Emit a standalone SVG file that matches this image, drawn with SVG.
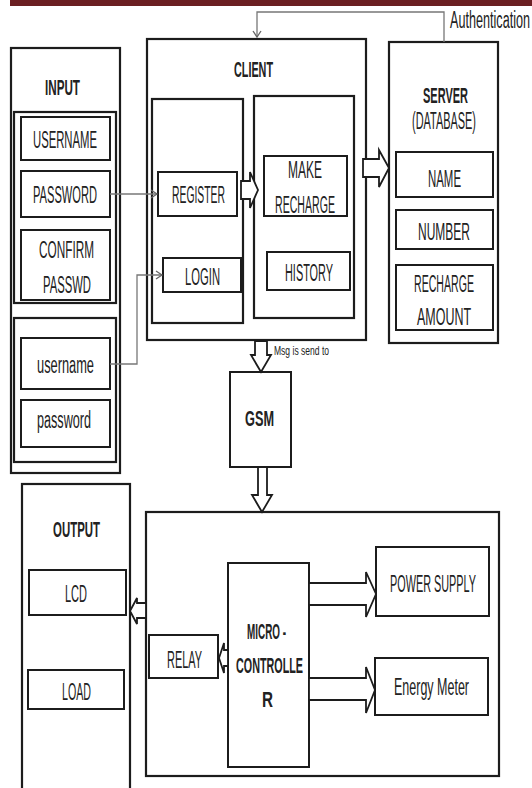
<svg xmlns="http://www.w3.org/2000/svg" width="532" height="788" viewBox="0 0 532 788">
<defs>
<style>
.box{fill:none;stroke:#1c1c1c;stroke-width:2.2}
.ibox{fill:#fff;stroke:#1c1c1c;stroke-width:2}
.t{font-family:"Liberation Sans",Arial,sans-serif;font-size:23px;fill:#222}
.b{font-weight:bold;font-size:22px}
.s{font-size:13px}
.blk{fill:#fff;stroke:#1c1c1c;stroke-width:1.8;stroke-linejoin:miter}
.ln{fill:none;stroke:#777;stroke-width:1.3}
</style>
<marker id="chev" markerWidth="10" markerHeight="10" refX="8" refY="5" orient="auto" markerUnits="userSpaceOnUse">
<path d="M2,1 L8,5 L2,9" fill="none" stroke="#666" stroke-width="1.3"/>
</marker>
</defs>
<rect x="0" y="0" width="532" height="788" fill="#fff"/>
<rect x="10" y="0" width="522" height="6" fill="#6b1f22"/>

<g id="input">
<rect class="box" x="11" y="48" width="109" height="425"/>
<text class="t b" x="45" y="95" textLength="35" lengthAdjust="spacingAndGlyphs">INPUT</text>
<rect class="box" x="14" y="112" width="102" height="191"/>
<rect class="box" x="14" y="318" width="102" height="144"/>
</g>
<g id="username-reg"><rect class="ibox" x="21" y="117" width="89" height="43"/><text class="t" x="33" y="148" textLength="64" lengthAdjust="spacingAndGlyphs">USERNAME</text></g>
<g id="password-reg"><rect class="ibox" x="21" y="171" width="89" height="46"/><text class="t" x="33" y="203" textLength="64" lengthAdjust="spacingAndGlyphs">PASSWORD</text></g>
<g id="confirm"><rect class="ibox" x="21" y="230" width="89" height="70"/><text class="t" x="39" y="258" textLength="55" lengthAdjust="spacingAndGlyphs">CONFIRM</text><text class="t" x="43" y="293" textLength="48" lengthAdjust="spacingAndGlyphs">PASSWD</text></g>
<g id="username-login"><rect class="ibox" x="21" y="338" width="89" height="51"/><text class="t" x="37" y="373" textLength="57" lengthAdjust="spacingAndGlyphs">username</text></g>
<g id="password-login"><rect class="ibox" x="21" y="400" width="89" height="47"/><text class="t" x="37" y="428" textLength="54" lengthAdjust="spacingAndGlyphs">password</text></g>

<g id="client">
<rect class="box" x="147" y="39" width="219" height="301"/>
<text class="t b" x="234" y="77" textLength="39" lengthAdjust="spacingAndGlyphs">CLIENT</text>
<rect class="box" x="152" y="99" width="91" height="224"/>
<rect class="box" x="254" y="96" width="100" height="222"/>
</g>
<g id="register"><rect class="ibox" x="158" y="172" width="79" height="44"/><text class="t" x="172" y="203" textLength="53" lengthAdjust="spacingAndGlyphs">REGISTER</text></g>
<g id="login"><rect class="ibox" x="163" y="258" width="78" height="34"/><text class="t" x="185" y="285" textLength="35" lengthAdjust="spacingAndGlyphs">LOGIN</text></g>
<g id="make-recharge"><rect class="ibox" x="264" y="156" width="83" height="60"/><text class="t" x="288" y="178" textLength="34" lengthAdjust="spacingAndGlyphs">MAKE</text><text class="t" x="275" y="213" textLength="60" lengthAdjust="spacingAndGlyphs">RECHARGE</text></g>
<g id="history"><rect class="ibox" x="267" y="252" width="83" height="38"/><text class="t" x="285" y="281" textLength="48" lengthAdjust="spacingAndGlyphs">HISTORY</text></g>

<g id="server">
<rect class="box" x="389" y="42" width="109" height="301"/>
<text class="t b" x="423" y="103" textLength="45" lengthAdjust="spacingAndGlyphs">SERVER</text>
<text class="t" x="412" y="129" textLength="64" lengthAdjust="spacingAndGlyphs">(DATABASE)</text>
</g>
<g id="name"><rect class="ibox" x="396" y="152" width="97" height="45"/><text class="t" x="428" y="187" textLength="33" lengthAdjust="spacingAndGlyphs">NAME</text></g>
<g id="number"><rect class="ibox" x="396" y="210" width="97" height="39"/><text class="t" x="418" y="240" textLength="52" lengthAdjust="spacingAndGlyphs">NUMBER</text></g>
<g id="recharge-amount"><rect class="ibox" x="396" y="265" width="97" height="65"/><text class="t" x="414" y="292" textLength="60" lengthAdjust="spacingAndGlyphs">RECHARGE</text><text class="t" x="417" y="325" textLength="54" lengthAdjust="spacingAndGlyphs">AMOUNT</text></g>

<g id="gsm"><rect class="ibox" x="230" y="372" width="61" height="95"/><text class="t b" x="245" y="426" textLength="29" lengthAdjust="spacingAndGlyphs">GSM</text></g>

<g id="output">
<rect class="box" x="22" y="484" width="108" height="320"/>
<text class="t b" x="53" y="537" textLength="47" lengthAdjust="spacingAndGlyphs">OUTPUT</text>
</g>
<g id="lcd"><rect class="ibox" x="29" y="570" width="97" height="45"/><text class="t" x="65" y="602" textLength="22" lengthAdjust="spacingAndGlyphs">LCD</text></g>
<g id="load"><rect class="ibox" x="28" y="670" width="96" height="39"/><text class="t" x="62" y="700" textLength="29" lengthAdjust="spacingAndGlyphs">LOAD</text></g>

<g id="controller-unit"><rect class="box" x="146" y="512" width="353" height="264"/></g>
<g id="relay"><rect class="ibox" x="149" y="635" width="69" height="43"/><text class="t" x="167" y="668" textLength="35" lengthAdjust="spacingAndGlyphs">RELAY</text></g>
<g id="microcontroller"><rect class="ibox" x="228" y="563" width="81" height="204"/>
<text class="t b" x="247" y="639" textLength="39" lengthAdjust="spacingAndGlyphs">MICRO -</text>
<text class="t b" x="236" y="673" textLength="67" lengthAdjust="spacingAndGlyphs">CONTROLLE</text>
<text class="t b" x="262" y="707" textLength="11" lengthAdjust="spacingAndGlyphs">R</text></g>
<g id="power-supply"><rect class="ibox" x="376" y="547" width="113" height="69"/><text class="t" x="390" y="592" textLength="86" lengthAdjust="spacingAndGlyphs">POWER SUPPLY</text></g>
<g id="energy-meter"><rect class="ibox" x="375" y="658" width="113" height="57"/><text class="t" x="394" y="695" textLength="75" lengthAdjust="spacingAndGlyphs">Energy Meter</text></g>

<g id="connectors">
<polyline class="ln" points="444,42 444,12 257,12 257,37" marker-end="url(#chev)"/>
<line class="ln" x1="110" y1="194" x2="157" y2="194" marker-end="url(#chev)"/>
<polyline class="ln" points="110,364 137,364 137,275 162,275" marker-end="url(#chev)"/>
<polygon class="blk" points="241,181 250,181 250,172 258,190 250,208 250,199 241,199"/>
<polygon class="blk" points="363,159 379,159 379,150 389,168 379,187 379,177 363,177"/>
<polygon class="blk" points="255,341 267,341 267,355 271,355 261,372 251,355 255,355"/>
<polygon class="blk" points="258,467 267,467 267,495 272,495 262,512 252,495 258,495"/>
<polygon class="blk" points="146,603 137,603 137,598 130,611 137,624 137,618 146,618"/>
<polygon class="blk" points="228,650 224,650 224,643 219,658 224,673 224,666 228,666"/>
<polygon class="blk" points="309,583 366,583 366,572 376,594 366,617 366,605 309,605"/>
<polygon class="blk" points="309,678 366,678 366,667 375,690 366,713 366,700 309,700"/>
<text class="t s" x="274" y="355" textLength="55" lengthAdjust="spacingAndGlyphs">Msg is send to</text>
<text class="t" x="450" y="28" font-size="20" textLength="80" lengthAdjust="spacingAndGlyphs">Authentication</text>
</g>
</svg>
